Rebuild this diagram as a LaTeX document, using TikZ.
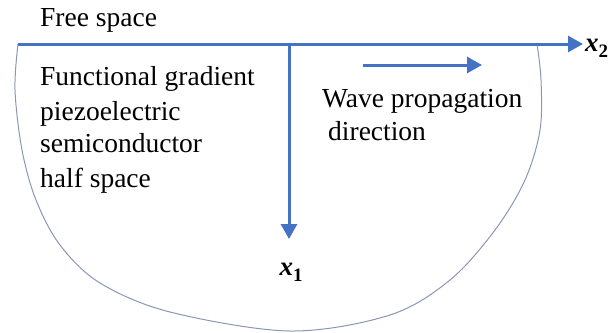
\documentclass[tikz,border=0pt]{standalone}
\usepackage{fontspec}
\setmainfont{Liberation Serif}
\usetikzlibrary{arrows.meta}
\definecolor{axisblue}{HTML}{4472C4}
\definecolor{edgegray}{HTML}{8A96B4}
\newcommand{\axsub}[1]{\raisebox{-0.25em}{\fontsize{19}{22}\selectfont\upshape\bfseries #1}}
\begin{document}
\begin{tikzpicture}[x=1pt,y=-1pt,
  axis/.style={draw=axisblue,line width=3pt,-{Triangle[length=15pt,width=16pt]}},
  lbl/.style={inner sep=0pt,anchor=base west,font=\fontsize{27.5}{32}\selectfont},
  axlbl/.style={inner sep=0pt,font=\fontsize{27}{30}\selectfont\bfseries\itshape}]
\useasboundingbox (0,0) rectangle (613,332);
% boundary of half space
\draw[edgegray,line width=1pt] plot[smooth,tension=0.55] coordinates {
  (18,44) (15,90) (22,150) (36,200) (60,245) (100,283) (170,312) (290,331)
  (390,315) (450,280) (495,230) (525,180) (540,130) (541,80) (537,44)};
% axes
\coordinate (o) at (18,44);
\coordinate (v0) at (289,44);
\node[axlbl,anchor=base west] (x2) at (585,51) {x\axsub{2}};
\node[axlbl,anchor=base] (x1) at (291,275) {x\axsub{1}};
\coordinate (x2tip) at (583,44);
\coordinate (x1tip) at (289,239);
\draw[axis] (o) -- (x2tip);
\draw[axis] (v0) -- (x1tip);
% wave direction
\coordinate (w0) at (363,65);
\coordinate (w1) at (482,65);
\draw[axis] (w0) -- (w1);
% texts
\node[lbl] (free) at (40,27) {Free space};
\node[lbl] (t1) at (40,85) {Functional gradient};
\node[lbl] (t2) at (40,120) {piezoelectric};
\node[lbl] (t3) at (40,152) {semiconductor};
\node[lbl] (t4) at (40,187) {half space};
\node[lbl] (w1t) at (322,107) {Wave propagation};
\node[lbl] (w2t) at (328,140) {direction};
\end{tikzpicture}
\end{document}
